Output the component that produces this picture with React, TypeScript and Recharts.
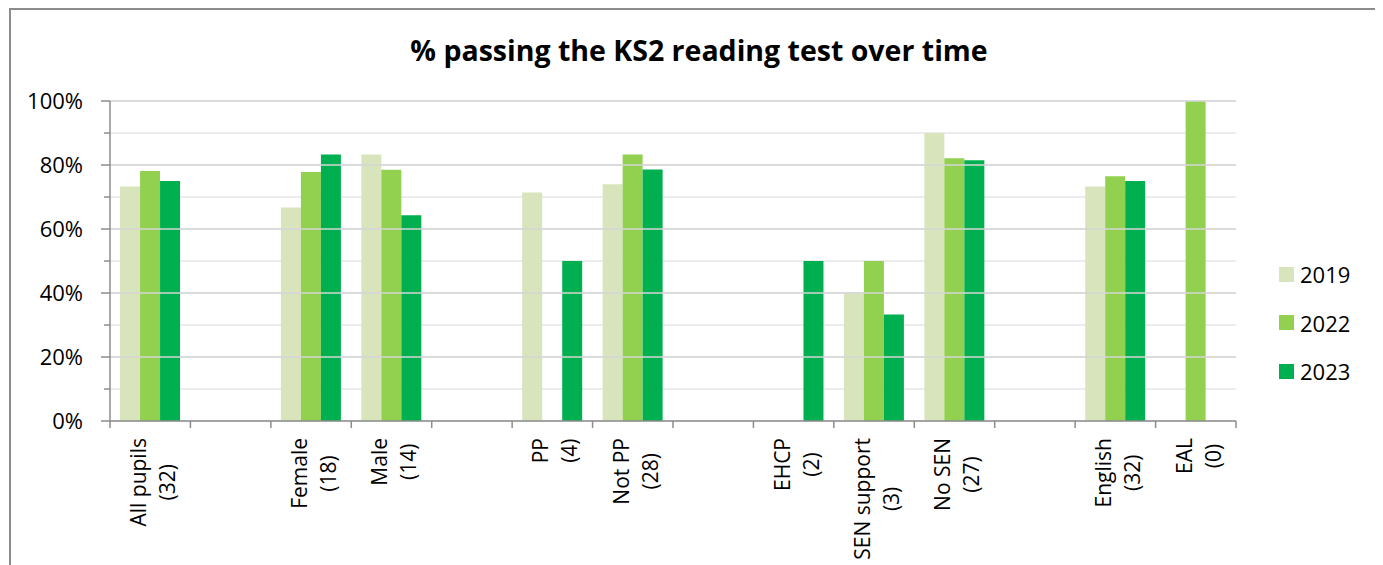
import React from "react";
import { BarChart, Bar, XAxis, YAxis, CartesianGrid, ReferenceLine, Legend } from "recharts";

const categories = [
  "All pupils\n(32)", "", "Female\n(18)", "Male\n(14)", "", "PP\n(4)", "Not PP\n(28)", "",
  "EHCP\n(2)", "SEN support\n(3)", "No SEN\n(27)", "", "English\n(32)", "EAL\n(0)",
];
const values2019 = [73.3, null, 66.7, 83.3, null, 71.4, 74.0, null, null, 40, 90, null, 73.3, null];
const values2022 = [78.1, null, 77.8, 78.5, null, null, 83.3, null, null, 50, 82.1, null, 76.5, 100];
const values2023 = [75, null, 83.3, 64.3, null, 50, 78.6, null, 50, 33.3, 81.5, null, 75, null];
const seriesNames = ["2019", "2022", "2023"];
const seriesColors = ["#D8E4BC", "#92D050", "#00B050"];
const yTicks = [0, 10, 20, 30, 40, 50, 60, 70, 80, 90, 100];
const majorTicks = [20, 40, 60, 80, 100];
const title = "% passing the KS2 reading test over time";

const data = categories.map((name, i) => ({
  name,
  s2019: values2019[i],
  s2022: values2022[i],
  s2023: values2023[i],
}));
const seriesKeys = ["s2019", "s2022", "s2023"];

const FONT = "'Open Sans', 'Noto Sans', sans-serif";
const AXIS_COLOR = "#8c8c8c";

let measureCtx: CanvasRenderingContext2D | null = null;
function measure(text: string, size: number): number {
  try {
    if (!measureCtx) {
      const c = document.createElement("canvas");
      measureCtx = c.getContext("2d");
    }
    if (measureCtx) {
      measureCtx.font = `${size}px 'Open Sans'`;
      return measureCtx.measureText(text).width;
    }
  } catch (e) {}
  return text.length * size * 0.52;
}

const XTick = (props: any) => {
  const { x, y, payload, index } = props;
  const half = payload && typeof payload.offset === "number" && payload.offset > 0 ? payload.offset : 1126 / 14 / 2;
  const label: string = (payload && payload.value) || "";
  const lines = label ? label.split("\n") : [];
  const fs = 21;
  const maxW = lines.reduce((m, l) => Math.max(m, measure(l, fs)), 0);
  const cy = y + 17 + maxW / 2;
  const baselines = [-4, 25];
  return (
    <g>
      <line x1={x - half} x2={x - half} y1={y} y2={y + 7} stroke={AXIS_COLOR} strokeWidth={1.5} />
      {index === categories.length - 1 && (
        <line x1={x + half} x2={x + half} y1={y} y2={y + 7} stroke={AXIS_COLOR} strokeWidth={1.5} />
      )}
      {lines.map((l, i) => {
        const bx = x + (lines.length === 1 ? 5 : baselines[i]);
        return (
          <text
            key={i}
            x={bx}
            y={cy}
            transform={`rotate(-90, ${bx}, ${cy})`}
            textAnchor="middle"
            fontSize={fs}
            fontFamily={FONT}
            fill="#000"
          >
            {l}
          </text>
        );
      })}
    </g>
  );
};

const YTick = (props: any) => {
  const { x, y, payload } = props;
  const v = payload.value;
  const major = v % 20 === 0;
  return (
    <g>
      <line x1={x - (major ? 9 : 6)} x2={x} y1={y} y2={y} stroke={AXIS_COLOR} strokeWidth={1.5} />
      {major && (
        <text x={x - 27} y={y} dy="0.35em" textAnchor="end" fontSize={22} fontFamily={FONT} fill="#000">
          {`${v}%`}
        </text>
      )}
    </g>
  );
};

const LegendContent = () => (
  <div style={{ fontFamily: FONT }}>
    {seriesNames.map((n, i) => (
      <div key={n} style={{ display: "flex", alignItems: "center", height: 48.5 }}>
        <div style={{ width: 15, height: 15, background: seriesColors[i], marginRight: 6 }} />
        <span style={{ fontSize: 22, color: "#000", lineHeight: "22px" }}>{n}</span>
      </div>
    ))}
  </div>
);

export default function App() {
  return (
    <div
      style={{
        position: "relative",
        marginLeft: 1,
        width: 1365,
        height: 555,
        borderTop: "2px solid #8c8c8c",
        borderLeft: "2px solid #8c8c8c",
        borderRight: "2px solid #8c8c8c",
        overflow: "hidden",
        background: "#fff",
      }}
    >
      <style>{`body{overflow:hidden}`}</style>
      <div
        style={{
          position: "absolute",
          left: 0,
          top: 23,
          width: 1376,
          textAlign: "center",
          fontFamily: FONT,
          fontWeight: 700,
          fontSize: 28.5,
          lineHeight: "34px",
          color: "#000",
          whiteSpace: "nowrap",
        }}
      >
        {title}
      </div>
      <BarChart
        width={1365}
        height={555}
        data={data}
        margin={{ top: 91, right: 140, bottom: 0, left: 39 }}
        barCategoryGap="12.5%"
        barGap={0}
      >
        <CartesianGrid vertical={false} stroke="#e6e6e6" strokeWidth={1.5} />
        {majorTicks.map((t) => (
          <ReferenceLine key={t} y={t} stroke="#d6d6d6" strokeWidth={1.5} ifOverflow="extendDomain" />
        ))}
        <XAxis
          dataKey="name"
          height={144}
          interval={0}
          tickLine={false}
          tickSize={0}
          tickMargin={0}
          axisLine={{ stroke: AXIS_COLOR, strokeWidth: 1.5 }}
          tick={<XTick />}
        />
        <YAxis
          width={60}
          domain={[0, 100]}
          ticks={yTicks}
          interval={0}
          tickLine={false}
          tickSize={0}
          tickMargin={0}
          axisLine={{ stroke: AXIS_COLOR, strokeWidth: 1.5 }}
          tick={<YTick />}
        />
        <Legend
          layout="vertical"
          align="center"
          verticalAlign="middle"
          content={<LegendContent />}
          wrapperStyle={{ position: "absolute", left: 1268, top: 240, width: 100 }}
        />
        {seriesKeys.map((k, i) => (
          <Bar key={k} dataKey={k} name={seriesNames[i]} fill={seriesColors[i]} isAnimationActive={false} />
        ))}
      </BarChart>
    </div>
  );
}
